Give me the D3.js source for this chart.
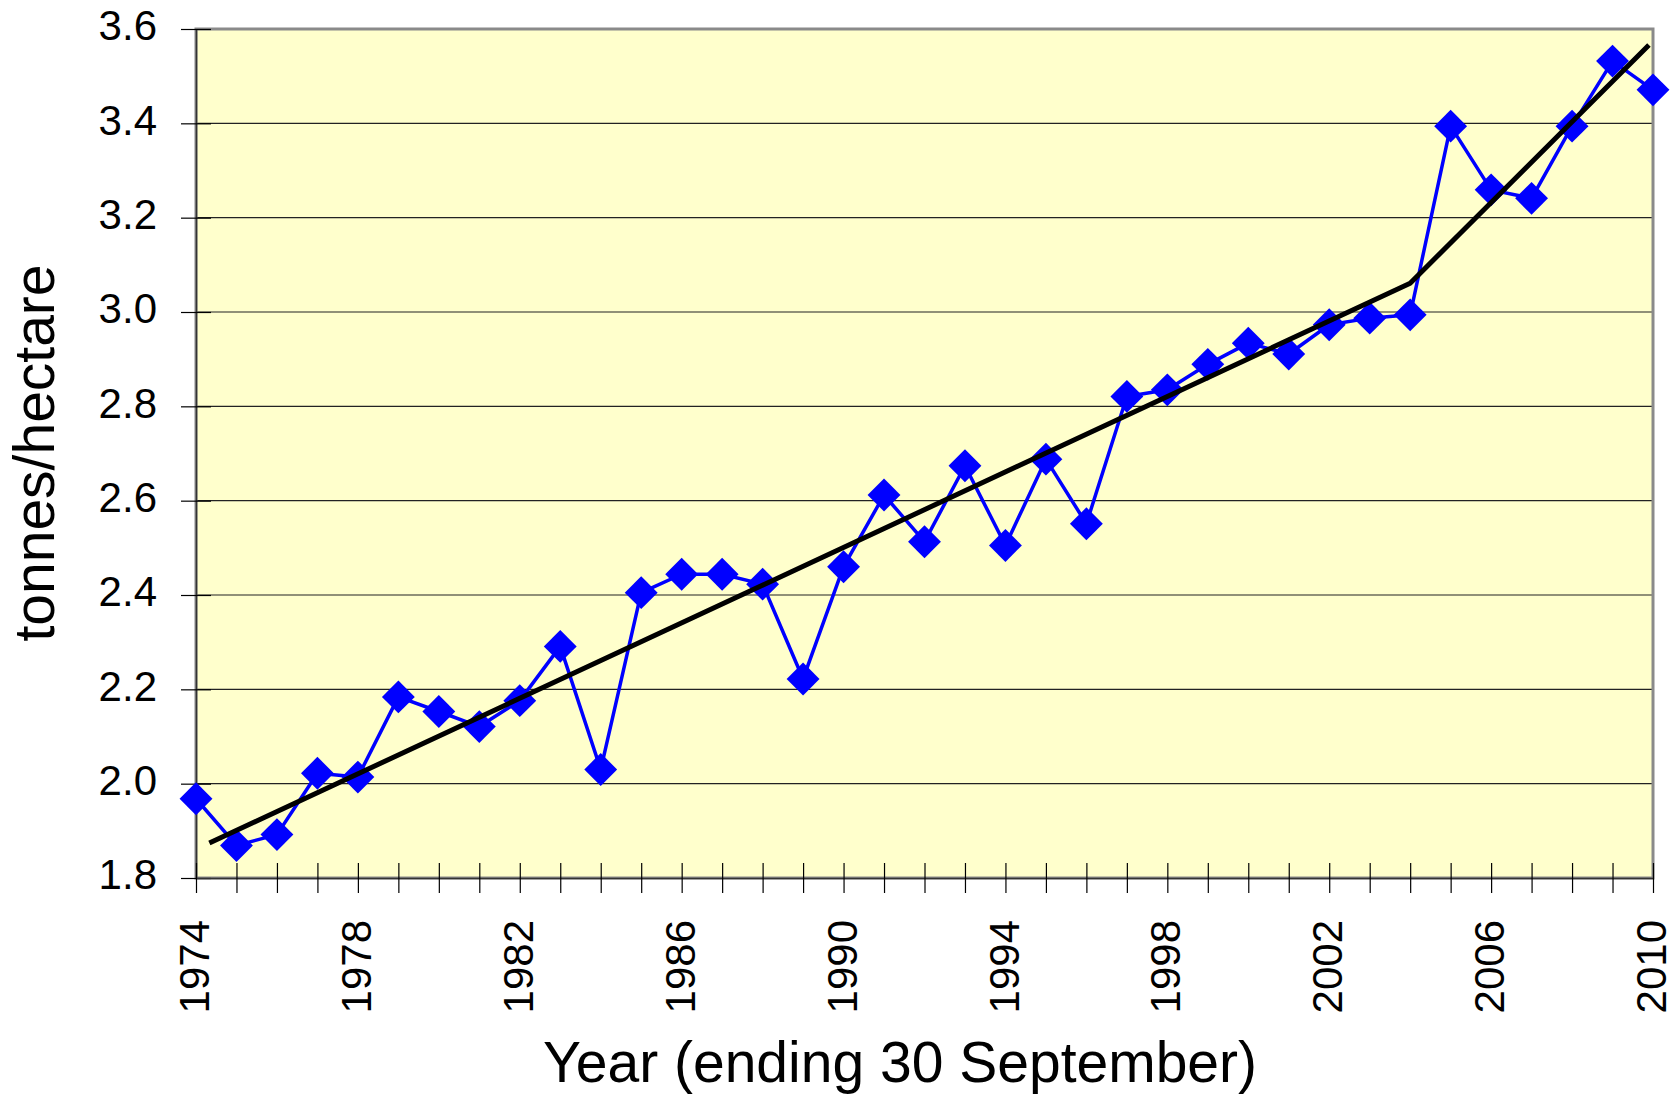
<!DOCTYPE html>
<html>
<head>
<meta charset="utf-8">
<script src="https://cdn.jsdelivr.net/npm/d3@7"></script>
<style>
  html, body { margin: 0; padding: 0; background: #ffffff; }
  svg { display: block; }
  text { font-family: "Liberation Sans", Arial, sans-serif; fill: #000; }
</style>
</head>
<body>
<svg id="chart" width="1672" height="1095"></svg>
<script>
const years = [1974,1975,1976,1977,1978,1979,1980,1981,1982,1983,1984,1985,1986,1987,1988,1989,1990,1991,1992,1993,1994,1995,1996,1997,1998,1999,2000,2001,2002,2003,2004,2005,2006,2007,2008,2009,2010];
const yields = [1.968,1.869,1.892,2.022,2.014,2.184,2.153,2.121,2.176,2.291,2.030,2.405,2.444,2.444,2.423,2.222,2.460,2.612,2.513,2.674,2.505,2.688,2.551,2.821,2.835,2.889,2.934,2.911,2.973,2.987,2.994,3.394,3.259,3.241,3.394,3.532,3.471];
const trendYears = [1974.33, 2004, 2009.9];
const trendValues = [1.874, 3.061, 3.566];
const yTicks = [1.8,2.0,2.2,2.4,2.6,2.8,3.0,3.2,3.4,3.6];
const xLabelYears = [1974,1978,1982,1986,1990,1994,1998,2002,2006,2010];
const xTitle = "Year (ending 30 September)";
const yTitle = "tonnes/hectare";

(function () {
const svg = d3.select("#chart");
const pLeft = 196, pRight = 1653, pTop = 29, pBottom = 878;

const x = d3.scaleLinear().domain([1974, 2010]).range([pLeft, pRight]);
const y = d3.scaleLinear().domain([1.8, 3.6]).range([pBottom, pTop]);

// plot background
svg.append("rect")
  .attr("x", pLeft).attr("y", pTop)
  .attr("width", pRight - pLeft).attr("height", pBottom - pTop)
  .attr("fill", "#FFFFCC");

// gridlines
svg.append("g").selectAll("line")
  .data(yTicks.filter(v => v > 1.8 && v < 3.6))
  .join("line")
  .attr("x1", pLeft).attr("x2", pRight)
  .attr("y1", d => y(d)).attr("y2", d => y(d))
  .attr("stroke", "#222").attr("stroke-width", 1.2);

// plot border (gray)
svg.append("rect")
  .attr("x", pLeft).attr("y", pTop)
  .attr("width", pRight - pLeft).attr("height", pBottom - pTop)
  .attr("fill", "none").attr("stroke", "#8a8a8a").attr("stroke-width", 3);

// Y axis
const yAxis = d3.axisLeft(y).tickValues(yTicks).tickFormat(d3.format(".1f"))
  .tickSizeInner(15).tickSizeOuter(0).tickPadding(24);
const gy = svg.append("g").attr("transform", `translate(${pLeft},0)`).call(yAxis);
gy.select(".domain").attr("stroke", "#333").attr("stroke-width", 1.5);
gy.selectAll(".tick line").attr("x1", 15).attr("x2", -15).attr("stroke", "#000").attr("stroke-width", 1.2);
gy.selectAll(".tick text")
  .attr("dy", "0.26em")
  .style("font-size", "42px")
  .style("font-family", "'Liberation Sans', Arial, sans-serif")
  .attr("fill", "#000");

// X axis
const xAxis = d3.axisBottom(x).tickValues(years)
  .tickFormat(d => xLabelYears.includes(d) ? String(d) : "")
  .tickSizeInner(15).tickSizeOuter(0);
const gx = svg.append("g").attr("transform", `translate(0,${pBottom})`).call(xAxis);
gx.select(".domain").attr("stroke", "#333").attr("stroke-width", 1.5);
gx.selectAll(".tick line").attr("y1", -15).attr("y2", 15).attr("stroke", "#000").attr("stroke-width", 1.2);
gx.selectAll(".tick text")
  .attr("transform", "rotate(-90)")
  .attr("text-anchor", "end")
  .attr("x", -42)
  .attr("y", 0)
  .attr("dy", "0.30em")
  .attr("dx", 0)
  .style("font-size", "42px")
  .style("font-family", "'Liberation Sans', Arial, sans-serif")
  .attr("fill", "#000");

// data line
const line = d3.line().x((d, i) => x(years[i])).y(d => y(d));
svg.append("path")
  .datum(yields)
  .attr("d", line)
  .attr("fill", "none")
  .attr("stroke", "#0000FF")
  .attr("stroke-width", 3.5)
  .attr("stroke-linejoin", "round");

// markers
const diamond = d3.symbol().type(d3.symbolSquare).size(540);
svg.append("g").selectAll("path")
  .data(yields)
  .join("path")
  .attr("d", diamond)
  .attr("transform", (d, i) => `translate(${x(years[i])},${y(d)}) rotate(45)`)
  .attr("fill", "#0000FF");

// trend line
const tline = d3.line().x((d, i) => x(trendYears[i])).y(d => y(d));
svg.append("path")
  .datum(trendValues)
  .attr("d", tline)
  .attr("fill", "none")
  .attr("stroke", "#000")
  .attr("stroke-width", 5)
  .attr("stroke-linejoin", "round");

// axis titles
svg.append("text")
  .attr("x", 900).attr("y", 1082)
  .attr("text-anchor", "middle")
  .style("font-size", "57px")
  .text(xTitle);

svg.append("text")
  .attr("transform", "translate(54,453) rotate(-90)")
  .attr("text-anchor", "middle")
  .style("font-size", "57px")
  .text(yTitle);
})();
</script>
</body>
</html>
